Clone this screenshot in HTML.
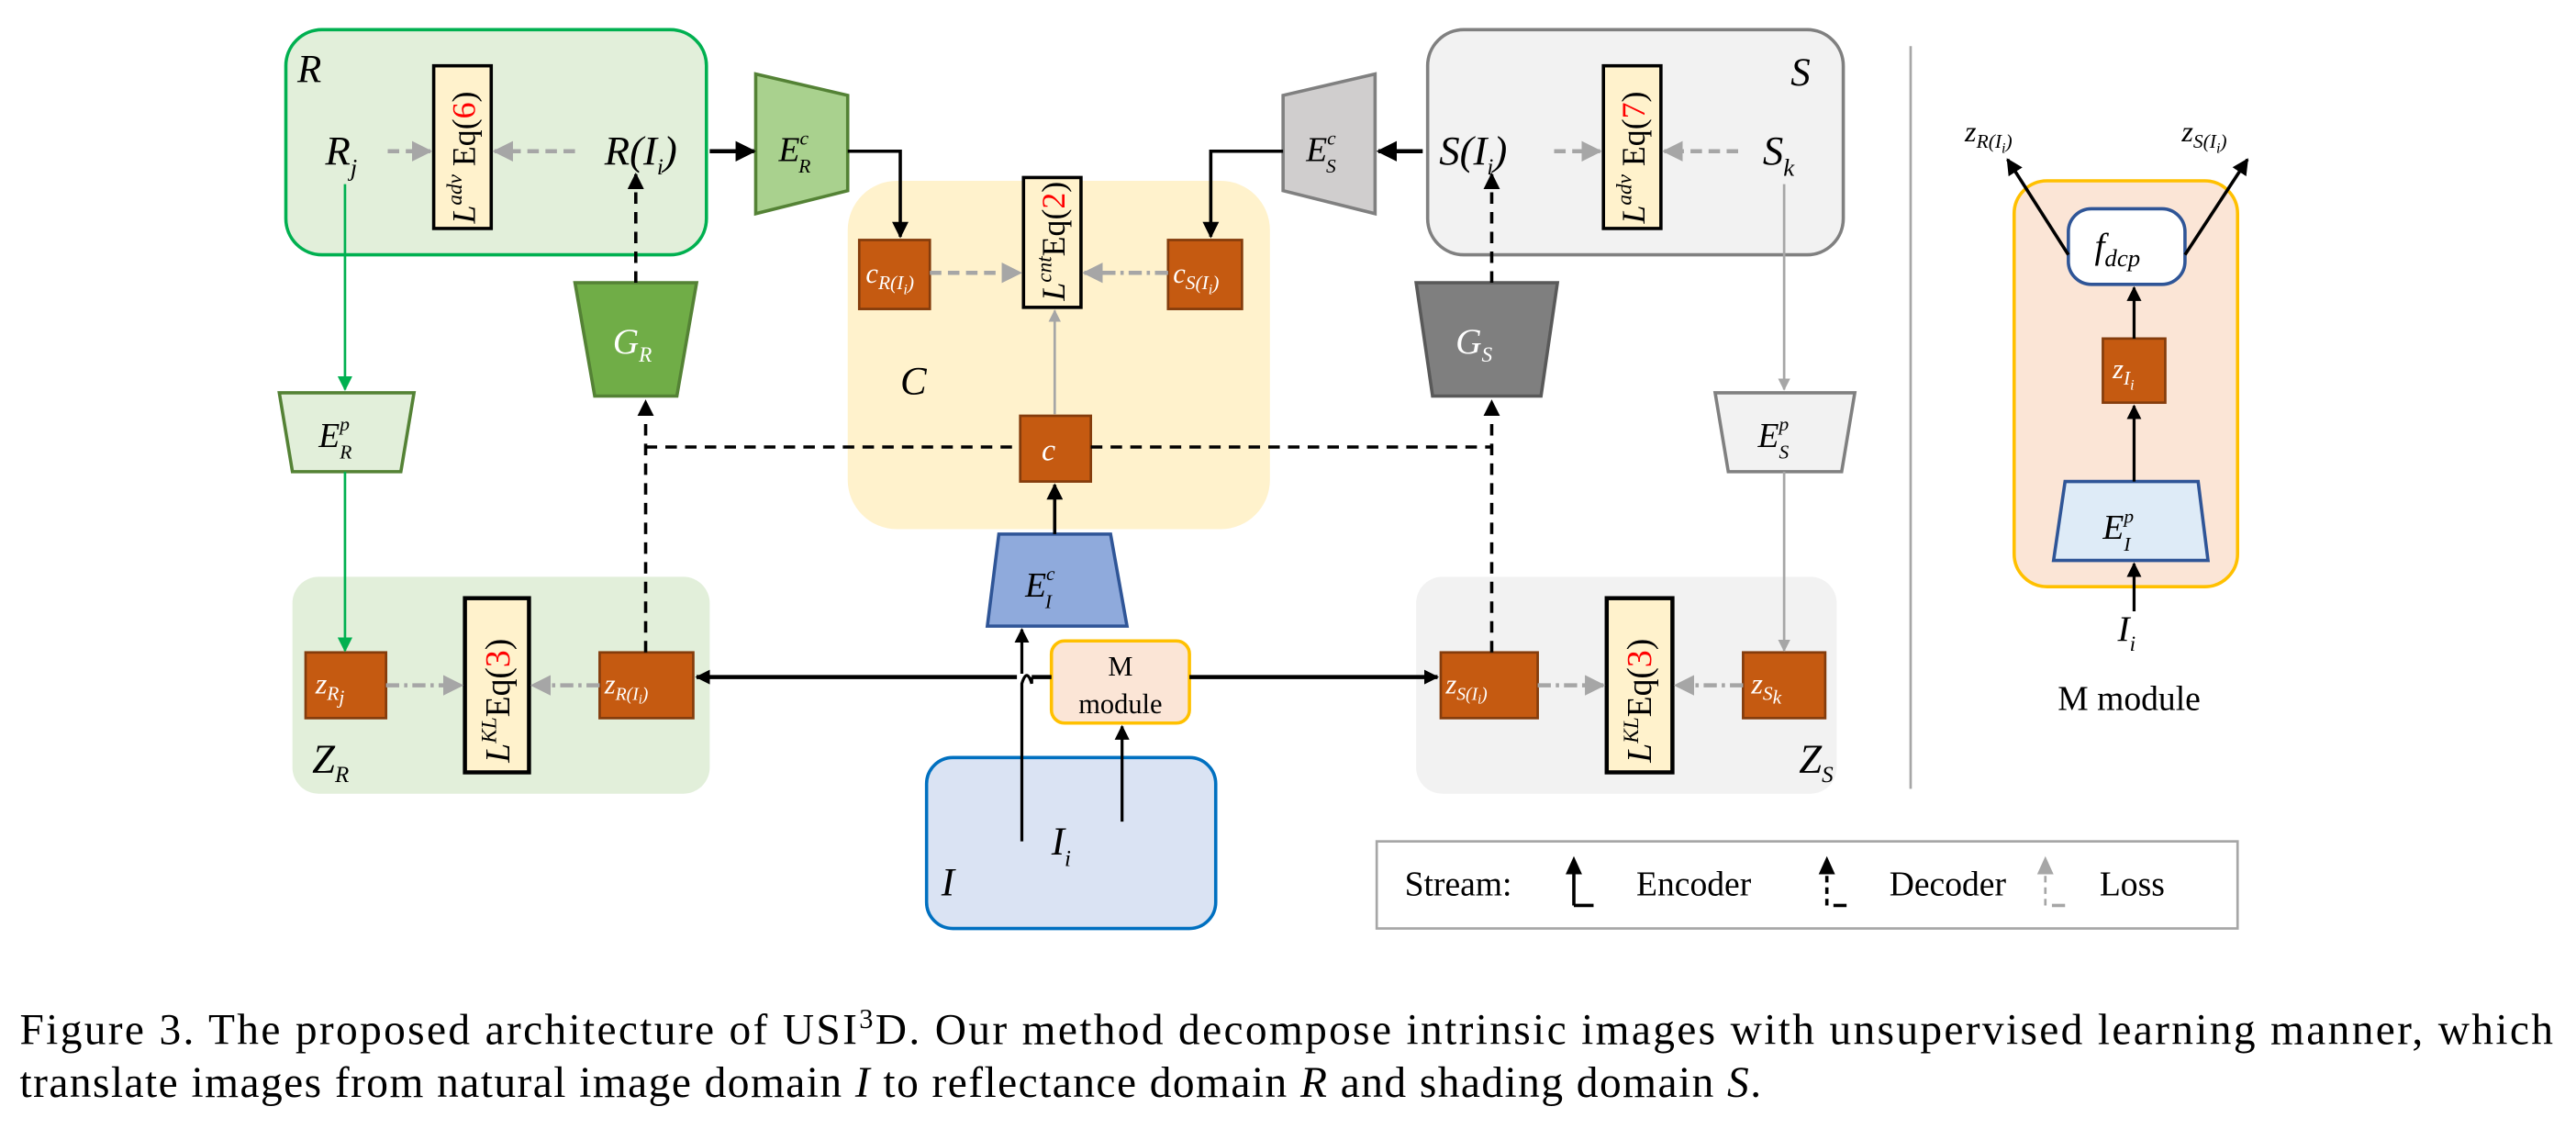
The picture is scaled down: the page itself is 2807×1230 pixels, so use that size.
<!DOCTYPE html>
<html><head><meta charset="utf-8"><style>
html,body{margin:0;padding:0;background:#fff;}
svg{display:block;}
text{font-family:"Liberation Serif",serif;}
.m{font-style:italic;}
</style></head><body>
<svg width="2807" height="1230" viewBox="0 0 1568 687" xmlns="http://www.w3.org/2000/svg">
<defs>
<marker id="ab" viewBox="0 0 10 10" refX="9" refY="5" markerWidth="5" markerHeight="5" orient="auto"><path d="M0,0L10,5L0,10z" fill="#000"/></marker>
<marker id="abb" viewBox="0 0 10 10" refX="9" refY="5" markerWidth="3.6" markerHeight="3.6" orient="auto"><path d="M0,0L10,5L0,10z" fill="#000"/></marker>
<marker id="ag" viewBox="0 0 10 10" refX="9" refY="5" markerWidth="5" markerHeight="5" orient="auto"><path d="M0,0L10,5L0,10z" fill="#a6a6a6"/></marker>
<marker id="agr" viewBox="0 0 10 10" refX="9" refY="5" markerWidth="6" markerHeight="6" orient="auto"><path d="M0,0L10,5L0,10z" fill="#00b050"/></marker>
</defs>

<!-- ========== BOXES ========== -->
<!-- R domain -->
<rect x="174" y="18" width="256" height="137" rx="22" fill="#e2efda" stroke="#00b050" stroke-width="2"/>
<text x="181" y="50" font-size="24" class="m">R</text>
<text x="198" y="100" font-size="25" class="m">R<tspan font-size="15" dy="7">j</tspan></text>
<rect x="264" y="40" width="35" height="99" fill="#fff2cc" stroke="#000" stroke-width="2"/>
<text transform="translate(289,136) rotate(-90)" font-size="20"><tspan class="m">L<tspan font-size="13" dy="-8">adv</tspan></tspan><tspan dy="8"> Eq(</tspan><tspan fill="#f00">6</tspan>)</text>
<text x="368" y="100" font-size="25" class="m">R(I<tspan font-size="14" dy="6">i</tspan><tspan dy="-6">)</tspan></text>

<!-- E_R^c -->
<polygon points="460,45 516,58 516,116 460,130" fill="#a9d18e" stroke="#548235" stroke-width="2"/>
<text x="474" y="98" font-size="21" class="m">E<tspan font-size="12" dy="-10">c</tspan><tspan font-size="12" dx="-6" dy="17">R</tspan></text>

<!-- C domain -->
<rect x="516" y="110" width="257" height="212" rx="30" fill="#fff2cc"/>
<rect x="523" y="146" width="43" height="42" fill="#c55a11" stroke="#843c0c" stroke-width="1.5"/>
<text x="527" y="172" font-size="17" fill="#fff" class="m">c<tspan font-size="12" dy="4">R(I<tspan font-size="9" dy="3">i</tspan><tspan dy="-3">)</tspan></tspan></text>
<rect x="623" y="108" width="35" height="79" fill="#fff2cc" stroke="#000" stroke-width="2"/>
<text transform="translate(648,183) rotate(-90)" font-size="20"><tspan class="m">L<tspan font-size="13" dy="-8">cnt</tspan></tspan><tspan dy="8">Eq(</tspan><tspan fill="#f00">2</tspan>)</text>
<rect x="711" y="146" width="45" height="42" fill="#c55a11" stroke="#843c0c" stroke-width="1.5"/>
<text x="714" y="172" font-size="17" fill="#fff" class="m">c<tspan font-size="12" dy="4">S(I<tspan font-size="9" dy="3">i</tspan><tspan dy="-3">)</tspan></tspan></text>
<text x="548" y="240" font-size="24" class="m">C</text>
<rect x="621" y="253" width="43" height="40" fill="#c55a11" stroke="#843c0c" stroke-width="1.5"/>
<text x="634" y="280" font-size="19" fill="#fff" class="m">c</text>

<!-- E_S^c -->
<polygon points="837,45 781,58 781,116 837,130" fill="#d0cece" stroke="#808080" stroke-width="2"/>
<text x="795" y="98" font-size="21" class="m">E<tspan font-size="12" dy="-10">c</tspan><tspan font-size="12" dx="-6" dy="17">S</tspan></text>

<!-- S domain -->
<rect x="869" y="18" width="253" height="137" rx="22" fill="#f2f2f2" stroke="#808080" stroke-width="2"/>
<text x="1090" y="52" font-size="24" class="m">S</text>
<text x="876" y="100" font-size="25" class="m">S(I<tspan font-size="14" dy="6">i</tspan><tspan dy="-6">)</tspan></text>
<rect x="976" y="40" width="35" height="99" fill="#fff2cc" stroke="#000" stroke-width="2"/>
<text transform="translate(1001,136) rotate(-90)" font-size="20"><tspan class="m">L<tspan font-size="13" dy="-8">adv</tspan></tspan><tspan dy="8"> Eq(</tspan><tspan fill="#f00">7</tspan>)</text>
<text x="1073" y="100" font-size="25" class="m">S<tspan font-size="15" dy="7">k</tspan></text>

<!-- G_R, G_S -->
<polygon points="350,172 424,172 412,241 362,241" fill="#70ad47" stroke="#548235" stroke-width="2"/>
<text x="373" y="215" font-size="22" fill="#fff" class="m">G<tspan font-size="13" dy="5">R</tspan></text>
<polygon points="862,172 948,172 938,241 872,241" fill="#7f7f7f" stroke="#595959" stroke-width="2"/>
<text x="886" y="215" font-size="22" fill="#fff" class="m">G<tspan font-size="13" dy="5">S</tspan></text>

<!-- E^p -->
<polygon points="170,239 252,239 244,287 178,287" fill="#e2efda" stroke="#548235" stroke-width="2"/>
<text x="194" y="272" font-size="21" class="m">E<tspan font-size="12" dy="-10">p</tspan><tspan font-size="12" dx="-6" dy="17">R</tspan></text>
<polygon points="1044,239 1129,239 1121,287 1052,287" fill="#f2f2f2" stroke="#808080" stroke-width="2"/>
<text x="1070" y="272" font-size="21" class="m">E<tspan font-size="12" dy="-10">p</tspan><tspan font-size="12" dx="-6" dy="17">S</tspan></text>

<!-- Z_R -->
<rect x="178" y="351" width="254" height="132" rx="16" fill="#e2efda"/>
<rect x="186" y="397" width="49" height="40" fill="#c55a11" stroke="#843c0c" stroke-width="1.5"/>
<text x="192" y="422" font-size="18" fill="#fff" class="m">z<tspan font-size="12" dy="4">R<tspan dy="2">j</tspan></tspan></text>
<rect x="283" y="364" width="39" height="106" fill="#fff2cc" stroke="#000" stroke-width="2.5"/>
<text transform="translate(310,464) rotate(-90)" font-size="21"><tspan class="m">L<tspan font-size="13" dy="-8">KL</tspan></tspan><tspan dy="8">Eq(</tspan><tspan fill="#f00">3</tspan>)</text>
<rect x="365" y="397" width="57" height="40" fill="#c55a11" stroke="#843c0c" stroke-width="1.5"/>
<text x="368" y="422" font-size="17" fill="#fff" class="m">z<tspan font-size="11" dy="4">R(I<tspan font-size="8" dy="2">i</tspan><tspan dy="-2">)</tspan></tspan></text>
<text x="190" y="470" font-size="25" class="m">Z<tspan font-size="14" dy="6">R</tspan></text>

<!-- Z_S -->
<rect x="862" y="351" width="256" height="132" rx="16" fill="#f2f2f2"/>
<rect x="877" y="397" width="59" height="40" fill="#c55a11" stroke="#843c0c" stroke-width="1.5"/>
<text x="880" y="422" font-size="17" fill="#fff" class="m">z<tspan font-size="11" dy="4">S(I<tspan font-size="8" dy="2">i</tspan><tspan dy="-2">)</tspan></tspan></text>
<rect x="978" y="364" width="40" height="106" fill="#fff2cc" stroke="#000" stroke-width="2.5"/>
<text transform="translate(1005,464) rotate(-90)" font-size="21"><tspan class="m">L<tspan font-size="13" dy="-8">KL</tspan></tspan><tspan dy="8">Eq(</tspan><tspan fill="#f00">3</tspan>)</text>
<rect x="1061" y="397" width="50" height="40" fill="#c55a11" stroke="#843c0c" stroke-width="1.5"/>
<text x="1066" y="422" font-size="18" fill="#fff" class="m">z<tspan font-size="12" dy="4">S<tspan dy="2">k</tspan></tspan></text>
<text x="1095" y="470" font-size="25" class="m">Z<tspan font-size="14" dy="6">S</tspan></text>

<!-- E_I^c -->
<polygon points="608,325 676,325 686,381 601,381" fill="#8faadc" stroke="#2f5597" stroke-width="2"/>
<text x="624" y="363" font-size="21" class="m">E<tspan font-size="12" dy="-10">c</tspan><tspan font-size="12" dx="-6" dy="17">I</tspan></text>

<!-- I box -->
<rect x="564" y="461" width="176" height="104" rx="16" fill="#dae3f3" stroke="#0070c0" stroke-width="2"/>
<text x="573" y="545" font-size="24" class="m">I</text>
<text x="640" y="520" font-size="24" class="m">I<tspan font-size="14" dy="7">i</tspan></text>

<!-- M module -->
<rect x="640" y="390" width="84" height="50" rx="8" fill="#fbe5d6" stroke="#ffc000" stroke-width="2"/>
<text x="682" y="411" font-size="17" text-anchor="middle">M</text>
<text x="682" y="434" font-size="17" text-anchor="middle">module</text>

<!-- divider -->
<line x1="1163" y1="28" x2="1163" y2="480" stroke="#a6a6a6" stroke-width="1.5"/>

<!-- M module panel -->
<rect x="1226" y="110" width="136" height="247" rx="20" fill="#fbe5d6" stroke="#ffc000" stroke-width="2"/>
<rect x="1259" y="127" width="71" height="46" rx="14" fill="#fff" stroke="#2f5597" stroke-width="2"/>
<text x="1275" y="157" font-size="22" class="m">f<tspan font-size="15" dy="5">dcp</tspan></text>
<rect x="1280" y="206" width="38" height="39" fill="#c55a11" stroke="#843c0c" stroke-width="1.5"/>
<text x="1286" y="230" font-size="17" fill="#fff" class="m">z<tspan font-size="12" dy="4">I<tspan font-size="9" dy="3">i</tspan></tspan></text>
<polygon points="1257,293 1338,293 1344,341 1250,341" fill="#deebf7" stroke="#2f5597" stroke-width="2"/>
<text x="1280" y="328" font-size="21" class="m">E<tspan font-size="12" dy="-10">p</tspan><tspan font-size="12" dx="-6" dy="17">I</tspan></text>
<text x="1196" y="86" font-size="18" class="m">z<tspan font-size="12" dy="4">R(I<tspan font-size="9" dy="3">i</tspan><tspan dy="-3">)</tspan></tspan></text>
<text x="1328" y="86" font-size="18" class="m">z<tspan font-size="12" dy="4">S(I<tspan font-size="9" dy="3">i</tspan><tspan dy="-3">)</tspan></tspan></text>
<text x="1289" y="390" font-size="22" class="m">I<tspan font-size="13" dy="6">i</tspan></text>
<text x="1296" y="432" font-size="21" text-anchor="middle">M module</text>

<!-- legend -->
<rect x="838" y="512" width="524" height="53" fill="#fff" stroke="#a6a6a6" stroke-width="1.5"/>
<text x="855" y="545" font-size="21">Stream:</text>
<path d="M958,551 L958,530 M958,551 L970,551" fill="none" stroke="#000" stroke-width="2"/>
<path d="M953,532 L958,521 L963,532z" fill="#000"/>
<text x="996" y="545" font-size="21">Encoder</text>
<path d="M1112,551 L1112,531" fill="none" stroke="#000" stroke-width="2" stroke-dasharray="4,3"/>
<path d="M1116,551 L1124,551" stroke="#000" stroke-width="2"/>
<path d="M1107,532 L1112,521 L1117,532z" fill="#000"/>
<text x="1150" y="545" font-size="21">Decoder</text>
<path d="M1245,551 L1245,531" fill="none" stroke="#a6a6a6" stroke-width="1.5" stroke-dasharray="4,3"/>
<path d="M1249,551 L1257,551" stroke="#a6a6a6" stroke-width="2"/>
<path d="M1240,532 L1245,521 L1250,532z" fill="#a6a6a6"/>
<text x="1278" y="545" font-size="21">Loss</text>

<!-- ========== CONNECTORS ========== -->
<line x1="236" y1="92" x2="262" y2="92" stroke="#a6a6a6" stroke-width="2.5" stroke-dasharray="7,4" marker-end="url(#ag)"/>
<line x1="350" y1="92" x2="301" y2="92" stroke="#a6a6a6" stroke-width="2.5" stroke-dasharray="7,4" marker-end="url(#ag)"/>
<line x1="946" y1="92" x2="974" y2="92" stroke="#a6a6a6" stroke-width="2.5" stroke-dasharray="7,4" marker-end="url(#ag)"/>
<line x1="1058" y1="92" x2="1013" y2="92" stroke="#a6a6a6" stroke-width="2.5" stroke-dasharray="7,4" marker-end="url(#ag)"/>

<line x1="432" y1="92" x2="459" y2="92" stroke="#000" stroke-width="2.5" marker-end="url(#ab)"/>
<polyline points="516,92 548,92 548,144" fill="none" stroke="#000" stroke-width="2" marker-end="url(#ab)"/>
<line x1="866" y1="92" x2="839" y2="92" stroke="#000" stroke-width="2.5" marker-end="url(#ab)"/>
<polyline points="781,92 737,92 737,144" fill="none" stroke="#000" stroke-width="2" marker-end="url(#ab)"/>

<line x1="566" y1="166" x2="621" y2="166" stroke="#a6a6a6" stroke-width="2.5" stroke-dasharray="7,4" marker-end="url(#ag)"/>
<line x1="711" y1="166" x2="660" y2="166" stroke="#a6a6a6" stroke-width="2.5" stroke-dasharray="8,3,2,3" marker-end="url(#ag)"/>
<line x1="642" y1="252" x2="642" y2="189" stroke="#a6a6a6" stroke-width="1.5" marker-end="url(#ag)"/>

<line x1="387" y1="172" x2="387" y2="106" stroke="#000" stroke-width="2" stroke-dasharray="7,5" marker-end="url(#ab)"/>
<line x1="908" y1="172" x2="908" y2="106" stroke="#000" stroke-width="2" stroke-dasharray="7,5" marker-end="url(#ab)"/>
<line x1="393" y1="397" x2="393" y2="244" stroke="#000" stroke-width="2" stroke-dasharray="7,5" marker-end="url(#ab)"/>
<line x1="908" y1="397" x2="908" y2="244" stroke="#000" stroke-width="2" stroke-dasharray="7,5" marker-end="url(#ab)"/>
<line x1="393" y1="272" x2="621" y2="272" stroke="#000" stroke-width="2" stroke-dasharray="7,5"/>
<line x1="664" y1="272" x2="908" y2="272" stroke="#000" stroke-width="2" stroke-dasharray="7,5"/>

<line x1="210" y1="112" x2="210" y2="237" stroke="#00b050" stroke-width="1.5" marker-end="url(#agr)"/>
<line x1="210" y1="287" x2="210" y2="396" stroke="#00b050" stroke-width="1.5" marker-end="url(#agr)"/>
<line x1="1086" y1="112" x2="1086" y2="237" stroke="#a6a6a6" stroke-width="1.5" marker-end="url(#ag)"/>
<line x1="1086" y1="287" x2="1086" y2="396" stroke="#a6a6a6" stroke-width="1.5" marker-end="url(#ag)"/>

<line x1="235" y1="417" x2="281" y2="417" stroke="#a6a6a6" stroke-width="2.5" stroke-dasharray="8,3,2,3" marker-end="url(#ag)"/>
<line x1="365" y1="417" x2="324" y2="417" stroke="#a6a6a6" stroke-width="2.5" stroke-dasharray="8,3,2,3" marker-end="url(#ag)"/>
<line x1="936" y1="417" x2="976" y2="417" stroke="#a6a6a6" stroke-width="2.5" stroke-dasharray="8,3,2,3" marker-end="url(#ag)"/>
<line x1="1061" y1="417" x2="1020" y2="417" stroke="#a6a6a6" stroke-width="2.5" stroke-dasharray="8,3,2,3" marker-end="url(#ag)"/>

<line x1="642" y1="325" x2="642" y2="295" stroke="#000" stroke-width="2" marker-end="url(#ab)"/>
<path d="M622,512 L622,416 Q625,406 628,416 L628,412 M622,410 L622,383" fill="none" stroke="#000" stroke-width="1.8" marker-end="url(#ab)"/>
<line x1="683" y1="500" x2="683" y2="442" stroke="#000" stroke-width="1.8" marker-end="url(#ab)"/>
<line x1="619" y1="412" x2="424" y2="412" stroke="#000" stroke-width="2.5" marker-end="url(#abb)"/>
<line x1="628" y1="412" x2="640" y2="412" stroke="#000" stroke-width="2.5"/>
<line x1="724" y1="412" x2="875" y2="412" stroke="#000" stroke-width="2.5" marker-end="url(#abb)"/>

<line x1="1299" y1="206" x2="1299" y2="175" stroke="#000" stroke-width="1.8" marker-end="url(#ab)"/>
<line x1="1299" y1="293" x2="1299" y2="247" stroke="#000" stroke-width="1.8" marker-end="url(#ab)"/>
<line x1="1299" y1="372" x2="1299" y2="343" stroke="#000" stroke-width="1.8" marker-end="url(#ab)"/>
<line x1="1259" y1="155" x2="1222" y2="97" stroke="#000" stroke-width="2" marker-end="url(#ab)"/>
<line x1="1330" y1="155" x2="1368" y2="97" stroke="#000" stroke-width="2" marker-end="url(#ab)"/>

<!-- caption -->
<text x="12" y="635.5" font-size="26.5" textLength="1542" lengthAdjust="spacing">Figure 3.    The proposed architecture of USI<tspan font-size="17" dy="-10">3</tspan><tspan dy="10">D. Our method decompose intrinsic images with unsupervised learning manner, which</tspan></text>
<text x="12" y="667.5" font-size="26.5" textLength="1060" lengthAdjust="spacing">translate images from natural image domain <tspan class="m">I</tspan> to reflectance domain <tspan class="m">R</tspan> and shading domain <tspan class="m">S</tspan>.</text>
</svg>
</body></html>
